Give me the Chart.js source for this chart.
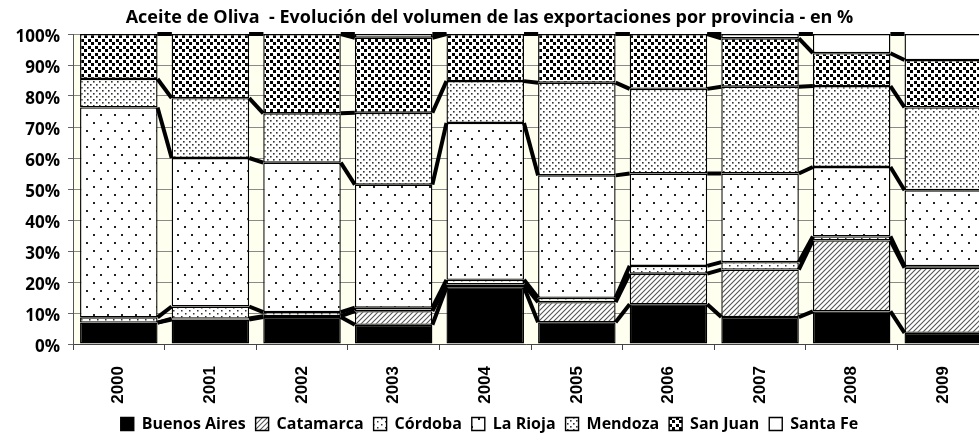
<!DOCTYPE html>
<html>
<head>
<meta charset="utf-8">
<script src="https://cdn.jsdelivr.net/npm/chart.js@4/dist/chart.umd.min.js"></script>
<style>
  html, body { margin: 0; padding: 0; background: #fff; overflow: hidden; }
  #wrap { width: 979px; height: 446px; }
</style>
</head>
<body>
<div id="wrap"><canvas id="chart" width="979" height="446"></canvas></div>
<script>
// años y participación de cada provincia (%)
const years = ['2000', '2001', '2002', '2003', '2004', '2005', '2006', '2007', '2008', '2009'];
const buenosAires = [6.9, 7.9, 8.7, 6.2, 18.3, 7.0, 12.8, 8.7, 10.5, 3.6];
const catamarca   = [0, 0.3, 0.3, 4.4, 0.9, 6.5, 9.9, 15.3, 22.9, 21.0];
const cordoba     = [1.7, 3.9, 1.3, 1.1, 1.5, 1.4, 2.5, 2.4, 1.3, 0.5];
const laRioja     = [67.7, 47.9, 48.2, 39.7, 50.6, 39.5, 29.8, 28.6, 22.4, 24.5];
const mendoza     = [9.2, 19.3, 15.9, 23.2, 13.5, 29.9, 27.3, 28.0, 26.1, 26.7];
const sanJuan     = [14.5, 20.7, 25.6, 24.2, 15.2, 15.7, 17.7, 15.6, 10.6, 15.3];
const santaFe     = [0, 0, 0, 1.2, 0, 0, 0, 1.4, 6.2, 8.4];
const yTicks = [0, 10, 20, 30, 40, 50, 60, 70, 80, 90, 100];
const xVisibleMax = 9.39; // el gráfico original está recortado a la derecha

const canvas = document.getElementById('chart');
const ctx = canvas.getContext('2d');

// tramas tipo Excel
function trama(w, h, dibujar) {
    const c = document.createElement('canvas');
    c.width = w; c.height = h;
    const g = c.getContext('2d');
    g.fillStyle = '#ffffff';
    g.fillRect(0, 0, w, h);
    dibujar(g);
    return ctx.createPattern(c, 'repeat');
}
const rayado = trama(5, 5, g => {
    g.strokeStyle = '#555';
    g.lineWidth = 1.1;
    g.beginPath();
    g.moveTo(-1, 6); g.lineTo(6, -1);
    g.moveTo(-1, 1); g.lineTo(1, -1);
    g.moveTo(4, 6); g.lineTo(6, 4);
    g.stroke();
});
const puntos10 = trama(8, 6, g => {
    g.fillStyle = '#333';
    g.fillRect(1, 1, 1.5, 1.5);
    g.fillRect(5, 4, 1.5, 1.5);
});
const puntos5 = trama(14, 16, g => {
    g.fillStyle = '#222';
    g.fillRect(2, 2, 2, 2);
    g.fillRect(9, 10, 2, 2);
});
const puntos25 = trama(6, 6, g => {
    g.fillStyle = '#333';
    g.fillRect(0, 0, 1.6, 1.6);
    g.fillRect(3, 3, 1.6, 1.6);
});
const confeti = trama(7, 7, g => {
    g.fillStyle = '#000';
    g.fillRect(0, 0, 3, 3);
    g.fillRect(4, 4, 3, 3);
});

const series = [
    { label: 'Buenos Aires', values: buenosAires, fill: '#000000' },
    { label: 'Catamarca', values: catamarca, fill: rayado },
    { label: 'Córdoba', values: cordoba, fill: puntos10 },
    { label: 'La Rioja', values: laRioja, fill: puntos5 },
    { label: 'Mendoza', values: mendoza, fill: puntos25 },
    { label: 'San Juan', values: sanJuan, fill: confeti },
    { label: 'Santa Fe', values: santaFe, fill: '#ffffff' }
];

// fondo crema del área de trazado
const fondoArea = {
    id: 'fondoArea',
    beforeDraw(chart) {
        const a = chart.chartArea;
        const c = chart.ctx;
        c.save();
        c.fillStyle = '#fffff0';
        c.fillRect(a.left, a.top, a.right - a.left, a.bottom - a.top);
        c.restore();
    }
};

// líneas de serie entre columnas
const lineasSerie = {
    id: 'lineasSerie',
    afterDatasetsDraw(chart) {
        const c = chart.ctx;
        const y = chart.scales.y;
        c.save();
        c.beginPath();
        c.rect(chart.chartArea.left, chart.chartArea.top - 4, chart.chartArea.right - chart.chartArea.left, chart.chartArea.bottom - chart.chartArea.top + 8);
        c.clip();
        c.strokeStyle = '#000';
        c.lineWidth = 4;
        for (let d = 0; d < series.length; d++) {
            const meta = chart.getDatasetMeta(d);
            for (let i = 0; i < years.length - 1; i++) {
                let acum1 = 0, acum2 = 0;
                for (let k = 0; k <= d; k++) {
                    acum1 += series[k].values[i];
                    acum2 += series[k].values[i + 1];
                }
                const b1 = meta.data[i], b2 = meta.data[i + 1];
                c.beginPath();
                c.moveTo(b1.x + b1.width / 2, y.getPixelForValue(acum1));
                c.lineTo(b2.x - b2.width / 2, y.getPixelForValue(acum2));
                c.stroke();
            }
        }
        c.restore();
    }
};

new Chart(ctx, {
    type: 'bar',
    data: {
        datasets: series.map(s => ({
            label: s.label,
            xAxisID: 'x',
            yAxisID: 'y',
            data: s.values.map((v, i) => ({ x: i, y: v })),
            backgroundColor: s.fill,
            borderColor: '#000',
            borderWidth: 1.4,
            borderSkipped: false,
            categoryPercentage: 1,
            barPercentage: 0.846
        }))
    },
    options: {
        responsive: false,
        animation: false,
        events: [],
        devicePixelRatio: 1,
        layout: { padding: { bottom: 4 } },
        plugins: {
            title: {
                display: true,
                text: 'Aceite de Oliva  - Evolución del volumen de las exportaciones por provincia - en %',
                color: '#000',
                font: { family: 'Open Sans', size: 18, weight: 'bold', lineHeight: 1.2 },
                padding: { top: 7, bottom: 5.4 }
            },
            legend: {
                position: 'bottom',
                labels: {
                    color: '#000',
                    font: { family: 'Open Sans', size: 16, weight: 'bold' },
                    boxWidth: 13,
                    boxHeight: 13,
                    padding: 10
                }
            },
            tooltip: { enabled: false }
        },
        scales: {
            x: {
                type: 'linear',
                position: 'bottom',
                weight: 1,
                stacked: true,
                min: -0.5,
                max: xVisibleMax,
                offset: false,
                afterBuildTicks: s => { s.ticks = years.map((_, i) => ({ value: i })); },
                afterFit: s => { s.height = 56; },
                ticks: {
                    autoSkip: false,
                    minRotation: 90,
                    maxRotation: 90,
                    padding: 8,
                    color: '#000',
                    font: { family: 'Liberation Sans', size: 17, weight: 'bold' },
                    callback: v => years[Math.round(v)]
                },
                grid: { display: false, offset: false },
                border: { display: false }
            },
            xb: {
                type: 'linear',
                position: 'bottom',
                weight: 0,
                min: -0.5,
                max: xVisibleMax,
                offset: false,
                afterBuildTicks: s => { s.ticks = years.map((_, i) => ({ value: i - 0.5 })); },
                ticks: { display: false },
                grid: { drawOnChartArea: false, tickLength: 6, color: '#444', offset: false },
                border: { display: true, color: '#444', width: 1 }
            },
            y: {
                stacked: true,
                min: 0,
                max: 100,
                afterBuildTicks: s => { s.ticks = yTicks.map(v => ({ value: v })); },
                afterFit: s => { s.width = 73; },
                ticks: {
                    padding: 8,
                    labelOffset: 3,
                    color: '#000',
                    font: { family: 'Open Sans', size: 17, weight: 'bold' },
                    callback: v => v + '%'
                },
                grid: { color: '#8a8a8a', lineWidth: 1, tickLength: 5, tickColor: '#666' },
                border: { display: true, color: '#555', width: 1 }
            }
        }
    },
    plugins: [fondoArea, lineasSerie]
});
</script>
</body>
</html>
